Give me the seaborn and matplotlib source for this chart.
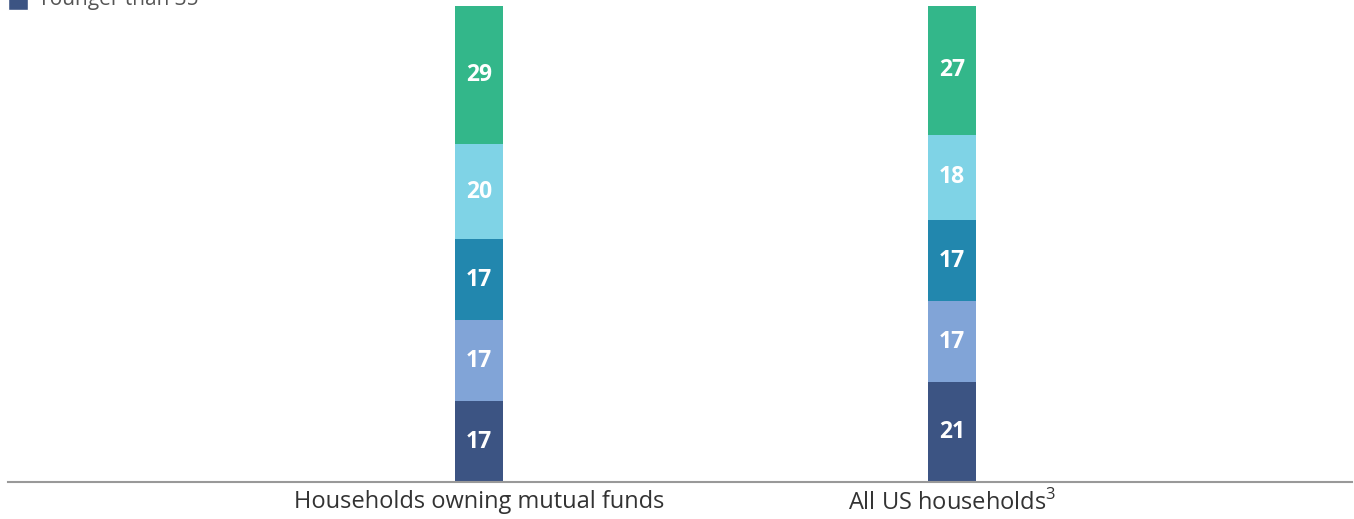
import matplotlib
matplotlib.use("Agg")
import matplotlib.pyplot as plt
import numpy as np
import pandas as pd
import seaborn as sns
from matplotlib.patches import Patch

# data
groups = ["Households owning mutual funds", "All US households$^{3}$"]
ages = ["Younger than 35", "35 to 44", "45 to 54", "55 to 64", "65 or older"]
younger_35 = [17, 21]
age_35_44 = [17, 17]
age_45_54 = [17, 17]
age_55_64 = [20, 18]
older_65 = [29, 27]
colors = ["#3c5483", "#81a4d7", "#2287ae", "#7fd3e6", "#33b78a"]

series = [younger_35, age_35_44, age_45_54, age_55_64, older_65]

sns.set_theme(style="white")
plt.rcParams["font.family"] = ["Open Sans", "DejaVu Sans"]
plt.rcParams["mathtext.fontset"] = "custom"
plt.rcParams["mathtext.rm"] = "Open Sans"

fig = plt.figure(figsize=(13.54, 5.19), dpi=100)
ax = fig.add_axes([8 / 1354, 37 / 519, 1344 / 1354, 476 / 519])

# stacked bars: draw cumulative totals from the top down so each covers the next
cum = np.cumsum(np.array(series), axis=0)
for i in range(len(series) - 1, -1, -1):
    df = pd.DataFrame({"group": groups, "value": cum[i]})
    sns.barplot(data=df, x="group", y="value", color=colors[i], width=0.1015,
                saturation=1, ax=ax, order=groups, edgecolor="none", linewidth=0)

# value labels in the middle of each segment
for i, vals in enumerate(series):
    for j, v in enumerate(vals):
        mid = cum[i][j] - v / 2
        ax.text(j, mid, str(v), ha="center", va="center", color="white",
                fontsize=16.5, fontweight="bold")

ax.set_xlim(-0.9958, 1.8457)
ax.set_ylim(0, 100)
ax.set_xlabel("")
ax.set_ylabel("")
ax.set_yticks([])
ax.tick_params(axis="x", length=0, labelsize=17, labelcolor="#333333", pad=6)
for s in ["top", "right", "left"]:
    ax.spines[s].set_visible(False)
ax.spines["bottom"].set_color("#999999")
ax.spines["bottom"].set_linewidth(1.5)

# legend sits above the visible area, only the last entry shows
handles = [Patch(facecolor=colors[i], label=ages[i]) for i in range(len(ages) - 1, -1, -1)]
fig.legend(handles=handles, loc="lower left", bbox_to_anchor=(8 / 1354, 0.981),
           bbox_transform=fig.transFigure, frameon=False, fontsize=15,
           labelcolor="#555555", handlelength=0.95, handleheight=1.4,
           handletextpad=0.5, borderaxespad=0, borderpad=0)

fig.savefig("out.png", dpi=100)
